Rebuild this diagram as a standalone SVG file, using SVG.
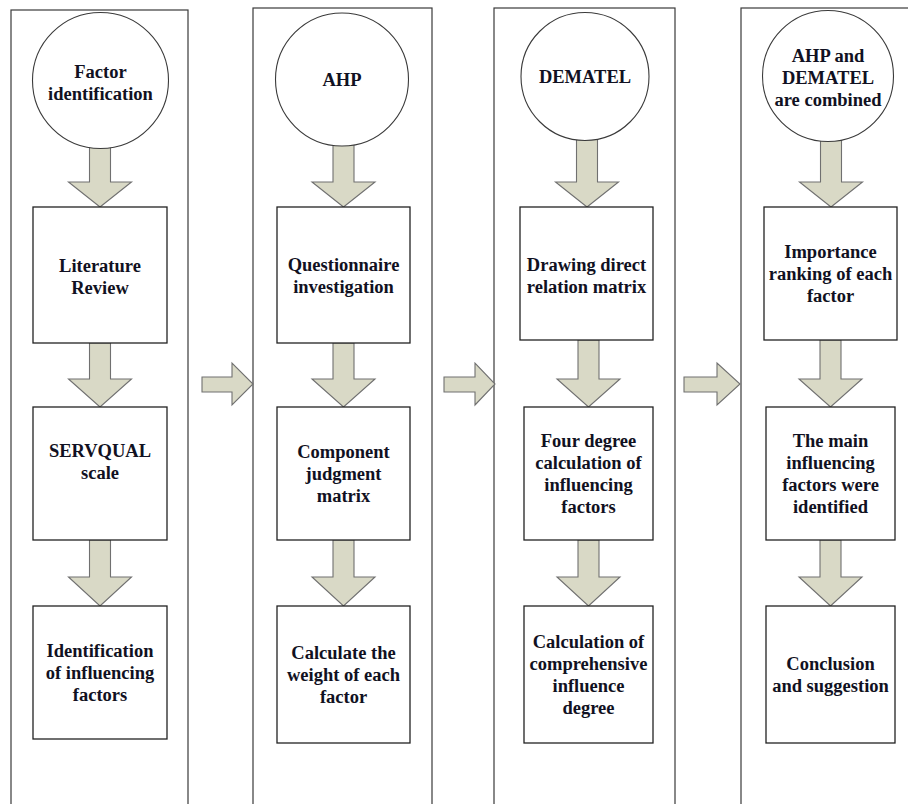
<svg xmlns="http://www.w3.org/2000/svg" width="908" height="804" viewBox="0 0 908 804">
<style>
.col{fill:none;stroke:#3a3a3a;stroke-width:1.2}
.circ{fill:#ffffff;stroke:#3a3a3a;stroke-width:1.1}
.box{fill:#ffffff;stroke:#222222;stroke-width:1.3}
.arr{fill:#d9d9c6;stroke:#707070;stroke-width:1.1;stroke-linejoin:miter}
text{font-family:"Liberation Serif","Times New Roman",serif;font-weight:bold;font-size:18.5px;fill:#111122;text-anchor:middle}
</style>
<rect width="908" height="804" fill="#ffffff"/>
<g id="columns">
<rect class="col" x="11" y="10" width="177" height="820"/>
<rect class="col" x="253" y="8" width="179" height="820"/>
<rect class="col" x="494" y="8" width="181" height="820"/>
<rect class="col" x="741" y="8" width="200" height="820"/>
</g>
<g id="connectors">
<path class="arr" d="M89.5,144 H110.5 V182 H131.5 L100,207 L68.5,182 H89.5 Z"/>
<path class="arr" d="M89.5,343 H110.5 V379 H131.5 L100,407 L68.5,379 H89.5 Z"/>
<path class="arr" d="M89.5,540 H110.5 V577 H131.5 L100,606 L68.5,577 H89.5 Z"/>
<path class="arr" d="M333,142 H354 V182 H375 L343.5,207 L312,182 H333 Z"/>
<path class="arr" d="M333,343 H354 V379 H375 L343.5,407 L312,379 H333 Z"/>
<path class="arr" d="M333,540 H354 V577 H375 L343.5,606 L312,577 H333 Z"/>
<path class="arr" d="M576.5,136 H597.5 V182 H618.5 L587,207 L555.5,182 H576.5 Z"/>
<path class="arr" d="M578,340 H599 V379 H620 L588.5,407 L557,379 H578 Z"/>
<path class="arr" d="M578,540 H599 V577 H620 L588.5,606 L557,577 H578 Z"/>
<path class="arr" d="M820.5,136 H841.5 V182 H862.5 L831,207 L799.5,182 H820.5 Z"/>
<path class="arr" d="M820,340 H841 V379 H862 L830.5,407 L799,379 H820 Z"/>
<path class="arr" d="M820,540 H841 V577 H862 L830.5,606 L799,577 H820 Z"/>
<path class="arr" d="M202,377 H232 V363 L253,384 L232,405 V392 H202 Z"/>
<path class="arr" d="M444,377 H475 V363 L495,384 L475,405 V392 H444 Z"/>
<path class="arr" d="M684,377 H717 V363 L740,384 L717,405 V392 H684 Z"/>
</g>
<g id="c1-circle"><circle class="circ" cx="100.5" cy="80.5" r="68"/><text x="100.5" y="78">Factor</text><text x="100.5" y="100">identification</text></g>
<g id="c1-box1"><rect class="box" x="33" y="207" width="134" height="136"/><text x="100" y="272">Literature</text><text x="100" y="294">Review</text></g>
<g id="c1-box2"><rect class="box" x="33" y="407" width="134" height="133"/><text x="100" y="457">SERVQUAL</text><text x="100" y="479">scale</text></g>
<g id="c1-box3"><rect class="box" x="33" y="606" width="134" height="133"/><text x="100" y="657">Identification</text><text x="100" y="679">of influencing</text><text x="100" y="701">factors</text></g>
<g id="c2-circle"><circle class="circ" cx="342" cy="79.5" r="66.5"/><text x="342" y="86">AHP</text></g>
<g id="c2-box1"><rect class="box" x="277" y="207" width="133" height="136"/><text x="343.5" y="271">Questionnaire</text><text x="343.5" y="293">investigation</text></g>
<g id="c2-box2"><rect class="box" x="277" y="407" width="133" height="133"/><text x="343.5" y="458">Component</text><text x="343.5" y="480">judgment</text><text x="343.5" y="502">matrix</text></g>
<g id="c2-box3"><rect class="box" x="277" y="606" width="133" height="137"/><text x="343.5" y="659">Calculate the</text><text x="343.5" y="681">weight of each</text><text x="343.5" y="703">factor</text></g>
<g id="c3-circle"><circle class="circ" cx="585" cy="76.5" r="64"/><text x="585" y="83">DEMATEL</text></g>
<g id="c3-box1"><rect class="box" x="520" y="207" width="133" height="133"/><text x="586.5" y="271">Drawing direct</text><text x="586.5" y="293">relation matrix</text></g>
<g id="c3-box2"><rect class="box" x="524" y="407" width="129" height="133"/><text x="588.5" y="447">Four degree</text><text x="588.5" y="469">calculation of</text><text x="588.5" y="491">influencing</text><text x="588.5" y="513">factors</text></g>
<g id="c3-box3"><rect class="box" x="524" y="606" width="129" height="137"/><text x="588.5" y="648">Calculation of</text><text x="588.5" y="670">comprehensive</text><text x="588.5" y="692">influence</text><text x="588.5" y="714">degree</text></g>
<g id="c4-circle"><circle class="circ" cx="828" cy="76" r="65.5"/><text x="828" y="62">AHP and</text><text x="828" y="84">DEMATEL</text><text x="828" y="106">are combined</text></g>
<g id="c4-box1"><rect class="box" x="764" y="207" width="133" height="133"/><text x="830.5" y="258">Importance</text><text x="830.5" y="280">ranking of each</text><text x="830.5" y="302">factor</text></g>
<g id="c4-box2"><rect class="box" x="766" y="407" width="129" height="133"/><text x="830.5" y="447">The main</text><text x="830.5" y="469">influencing</text><text x="830.5" y="491">factors were</text><text x="830.5" y="513">identified</text></g>
<g id="c4-box3"><rect class="box" x="766" y="606" width="129" height="137"/><text x="830.5" y="670">Conclusion</text><text x="830.5" y="692">and suggestion</text></g>
</svg>
